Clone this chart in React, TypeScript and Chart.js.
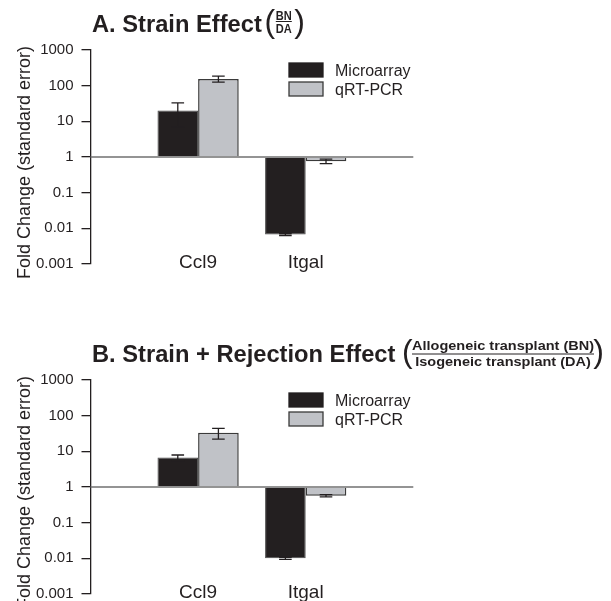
import { useEffect, useRef } from 'react';
import { Chart, registerables } from 'chart.js';

Chart.register(...registerables);

// Genes on the x axis and the two measurement methods
const categories = ['Ccl9', 'Itgal'];
const seriesNames = ['Microarray', 'qRT-PCR'];
const yTicks = [0.001, 0.01, 0.1, 1, 10, 100, 1000];

// A. Strain effect (BN / DA): fold change and standard error
const strainMicroarray = [20, 0.0067];
const strainMicroarraySE = [13, 0.0004];
const strainQpcr = [155, 0.76];
const strainQpcrSE = [30, 0.11];

// B. Strain + rejection effect (allogeneic BN / isogeneic DA)
const rejectionMicroarray = [6.7, 0.01];
const rejectionMicroarraySE = [1.2, 0.0006];
const rejectionQpcr = [33, 0.57];
const rejectionQpcrSE = [11, 0.04];

const FONT = 'Arial, "Liberation Sans", Helvetica, sans-serif';
const INK = '#231f20';
const BAR_DARK = '#231f20';
const BAR_LIGHT = '#c0c2c7';
const BAR_EDGE = '#3a3a3a';

const W = 611;
const H = 330;
const PLOT_TOP = 50;
const PLOT_BOTTOM = 264;
const PLOT_LEFT = 90.5;
const PLOT_RIGHT = 413.3;

type Frac = {
  num: string;
  den: string;
  cx: number;
  width: number;
  numBase: number;
  denBase: number;
  lineY: number;
  openX: number;
  closeX: number;
};

type PanelProps = {
  title: string;
  frac: Frac;
  microarray: number[];
  microarraySE: number[];
  qpcr: number[];
  qpcrSE: number[];
};

function drawScaledText(ctx: CanvasRenderingContext2D, text: string, cx: number, base: number, sx: number) {
  ctx.save();
  ctx.translate(cx, base);
  ctx.scale(sx, 1);
  ctx.textAlign = 'center';
  ctx.textBaseline = 'alphabetic';
  ctx.fillText(text, 0, 0);
  ctx.restore();
}

function Panel({ title, frac, microarray, microarraySE, qpcr, qpcrSE }: PanelProps) {
  const ref = useRef<HTMLCanvasElement | null>(null);

  useEffect(() => {
    const canvas = ref.current;
    if (!canvas) return;
    // empty slots at both ends put the gene groups at 1/3 and 2/3 of the axis
    const labels = ['', ...categories, ''];
    const pad = (arr: number[]) => [null, ...arr, null];

    const overlay = {
      id: 'panelOverlay',
      afterDatasetsDraw(chart: any) {
        const { ctx, chartArea } = chart;
        const y = chart.scales.y;
        // reference line at a fold change of 1
        const y1 = y.getPixelForValue(1);
        ctx.save();
        ctx.strokeStyle = '#707070';
        ctx.lineWidth = 1.5;
        ctx.beginPath();
        ctx.moveTo(chartArea.left, y1);
        ctx.lineTo(chartArea.right, y1);
        ctx.stroke();

        // standard error whiskers
        ctx.strokeStyle = INK;
        ctx.lineWidth = 1.3;
        chart.data.datasets.forEach((ds: any, di: number) => {
          const meta = chart.getDatasetMeta(di);
          ds.data.forEach((v: number | null, i: number) => {
            if (v == null) return;
            const se = ds.se[i];
            const x = meta.data[i].x;
            const top = y.getPixelForValue(v + se);
            const bot = y.getPixelForValue(Math.max(v - se, 1e-6));
            const cap = 6.3;
            ctx.beginPath();
            ctx.moveTo(x, top);
            ctx.lineTo(x, bot);
            ctx.moveTo(x - cap, top);
            ctx.lineTo(x + cap, top);
            ctx.moveTo(x - cap, bot);
            ctx.lineTo(x + cap, bot);
            ctx.stroke();
          });
        });
        ctx.restore();
      },
      afterDraw(chart: any) {
        const { ctx, chartArea } = chart;
        ctx.save();
        ctx.fillStyle = INK;

        // gene names, placed on the category scale just above the plot floor
        const xs = chart.scales.x;
        ctx.font = `19px ${FONT}`;
        ctx.textAlign = 'center';
        ctx.textBaseline = 'middle';
        categories.forEach((c, i) => {
          ctx.fillText(c, xs.getPixelForValue(i + 1), chartArea.bottom - 1);
        });

        // panel title
        ctx.font = `bold 23.7px ${FONT}`;
        ctx.textAlign = 'left';
        ctx.textBaseline = 'alphabetic';
        ctx.fillText(title, 92, 32);

        // ratio in parentheses
        ctx.font = `32px ${FONT}`;
        ctx.textAlign = 'left';
        ctx.fillText('(', frac.openX, 31.8);
        ctx.textAlign = 'right';
        ctx.fillText(')', frac.closeX, 31.8);

        ctx.font = `bold 12px ${FONT}`;
        const sx = frac.width / ctx.measureText(frac.num).width;
        drawScaledText(ctx, frac.num, frac.cx, frac.numBase, sx);
        drawScaledText(ctx, frac.den, frac.cx, frac.denBase, sx);
        ctx.strokeStyle = INK;
        ctx.lineWidth = 1;
        ctx.beginPath();
        ctx.moveTo(frac.cx - frac.width / 2, frac.lineY);
        ctx.lineTo(frac.cx + frac.width / 2, frac.lineY);
        ctx.stroke();

        // y axis title
        ctx.save();
        ctx.translate(25.5, chartArea.top + 112.5);
        ctx.rotate(-Math.PI / 2);
        ctx.font = `18px ${FONT}`;
        ctx.textAlign = 'center';
        ctx.textBaseline = 'middle';
        ctx.fillText('Fold Change (standard error)', 0, 0);
        ctx.restore();

        // legend
        const lx = 289;
        const boxW = 34;
        const boxH = 14;
        const rows = [
          { fill: BAR_DARK, edge: BAR_DARK, top: chartArea.top + 13 },
          { fill: BAR_LIGHT, edge: BAR_EDGE, top: chartArea.top + 32 },
        ];
        rows.forEach((r, i) => {
          ctx.fillStyle = r.fill;
          ctx.fillRect(lx, r.top, boxW, boxH);
          ctx.strokeStyle = r.edge;
          ctx.lineWidth = 1.3;
          ctx.strokeRect(lx, r.top, boxW, boxH);
          ctx.fillStyle = INK;
          ctx.font = `16px ${FONT}`;
          ctx.textAlign = 'left';
          ctx.textBaseline = 'alphabetic';
          ctx.fillText(seriesNames[i], 335, r.top + 13);
        });
        ctx.restore();
      },
    };

    const chart = new Chart(canvas, {
      type: 'bar',
      data: {
        labels,
        datasets: [
          {
            label: seriesNames[0],
            data: pad(microarray),
            se: pad(microarraySE),
            base: 1,
            backgroundColor: BAR_DARK,
            borderColor: '#4a4a4a',
            borderWidth: 1,
            borderSkipped: 'start',
          } as any,
          {
            label: seriesNames[1],
            data: pad(qpcr),
            se: pad(qpcrSE),
            base: 1,
            backgroundColor: BAR_LIGHT,
            borderColor: BAR_EDGE,
            borderWidth: 1.5,
            borderSkipped: 'start',
          } as any,
        ],
      },
      options: {
        animation: false,
        responsive: false,
        events: [],
        datasets: { bar: { barPercentage: 1, categoryPercentage: 0.755 } },
        layout: { padding: { top: PLOT_TOP, left: 0, right: W - PLOT_RIGHT, bottom: 0 } },
        plugins: {
          legend: { display: false },
          tooltip: { enabled: false },
          title: { display: false },
        },
        scales: {
          x: {
            type: 'category',
            offset: false,
            grid: { display: false, drawTicks: false },
            border: { display: false },
            ticks: { display: false },
            afterFit: (s: any) => {
              s.height = H - PLOT_BOTTOM;
            },
          },
          y: {
            type: 'logarithmic',
            min: 0.001,
            max: 1000,
            afterBuildTicks: (s: any) => {
              s.ticks = yTicks.map((v) => ({ value: v }));
            },
            ticks: {
              padding: 8,
              color: INK,
              font: { family: FONT, size: 15 },
              callback: (v: any) => String(v),
            },
            grid: {
              drawOnChartArea: false,
              drawTicks: true,
              tickLength: 9,
              color: INK,
              lineWidth: 1.3,
            },
            border: { display: true, color: INK, width: 1.3 },
            afterFit: (s: any) => {
              s.width = PLOT_LEFT;
            },
          },
        },
      } as any,
      plugins: [overlay],
    });
    return () => chart.destroy();
  }, [title, frac, microarray, microarraySE, qpcr, qpcrSE]);

  return <canvas ref={ref} width={W} height={H} style={{ display: 'block', width: W, height: H }} />;
}

const fracA: Frac = {
  num: 'BN',
  den: 'DA',
  cx: 283.8,
  width: 16,
  numBase: 20,
  denBase: 33,
  lineY: 21.5,
  openX: 264.5,
  closeX: 305,
};

const fracB: Frac = {
  num: 'Allogeneic transplant (BN)',
  den: 'Isogeneic transplant (DA)',
  cx: 503,
  width: 182,
  numBase: 20,
  denBase: 35.5,
  lineY: 24,
  openX: 402,
  closeX: 604,
};

export default function App() {
  return (
    <div
      style={{
        position: 'absolute',
        left: 0,
        top: 0,
        width: W,
        height: 601,
        overflow: 'hidden',
        background: '#fff',
      }}
    >
      <div style={{ position: 'absolute', left: 0, top: 0 }}>
        <Panel
          title="A. Strain Effect"
          frac={fracA}
          microarray={strainMicroarray}
          microarraySE={strainMicroarraySE}
          qpcr={strainQpcr}
          qpcrSE={strainQpcrSE}
        />
      </div>
      <div style={{ position: 'absolute', left: 0, top: 330 }}>
        <Panel
          title="B. Strain + Rejection Effect"
          frac={fracB}
          microarray={rejectionMicroarray}
          microarraySE={rejectionMicroarraySE}
          qpcr={rejectionQpcr}
          qpcrSE={rejectionQpcrSE}
        />
      </div>
    </div>
  );
}
